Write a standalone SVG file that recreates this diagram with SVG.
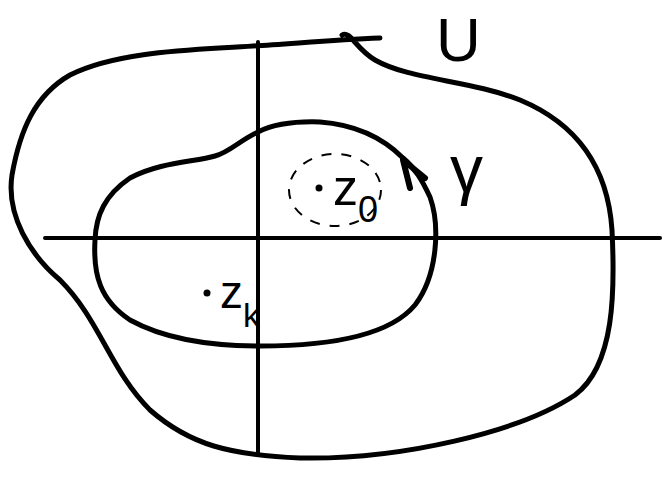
<svg xmlns="http://www.w3.org/2000/svg" width="662" height="479" viewBox="0 0 662 479">
<style>
.s{fill:none;stroke:#000;stroke-linecap:round;stroke-linejoin:round}
.t{font-family:"Liberation Sans",sans-serif;fill:#000}
</style>
<rect width="662" height="479" fill="#fff"/>
<g id="axes">
<path class="s" stroke-width="4" d="M 45 238 L 660 238"/>
<path class="s" stroke-width="4" d="M 258 42 L 258 452"/>
</g>
<g id="U">
<path class="s" stroke-width="5" d="M 380 38 C 330 40, 290 44, 253 46 C 200 50, 120 50, 70 75 C 35 95, 20 130, 12 175 C 6 215, 30 255, 60 280 C 100 320, 110 370, 150 410 C 190 445, 230 455, 300 458 C 400 460, 520 432, 575 395 C 615 365, 615 290, 612 230 C 608 170, 580 125, 520 100 C 470 80, 410 80, 375 60 C 355 48, 350 30, 342 35"/>
<text class="t" x="436" y="61" font-size="62">U</text>
</g>
<g id="gamma">
<path class="s" stroke-width="5" d="M 258 132 C 240 140, 230 152, 215 156 C 195 162, 160 162, 130 178 C 105 195, 96 215, 95 240 C 93 275, 100 300, 130 320 C 170 342, 220 346, 260 346 C 330 346, 390 335, 415 305 C 438 275, 440 225, 430 197 C 422 180, 415 168, 403 158 C 385 140, 360 125, 320 122 C 290 121, 272 125, 258 132 Z"/>
<path class="s" stroke-width="6" d="M 410 188 L 403 160 L 425 178"/>
<text class="t" x="450" y="192" font-size="66">γ</text>
</g>
<g id="z0">
<ellipse cx="335" cy="190" rx="46" ry="36" fill="none" stroke="#000" stroke-width="2" stroke-dasharray="10 10"/>
<circle cx="319" cy="188" r="3.5"/>
<text class="t" x="333" y="205" font-size="50">z<tspan font-size="36" dy="17">0</tspan></text>
</g>
<g id="zk">
<circle cx="207" cy="293" r="3.5"/>
<text class="t" x="220" y="308" font-size="46">z<tspan font-size="34" dy="19">k</tspan></text>
</g>
</svg>
